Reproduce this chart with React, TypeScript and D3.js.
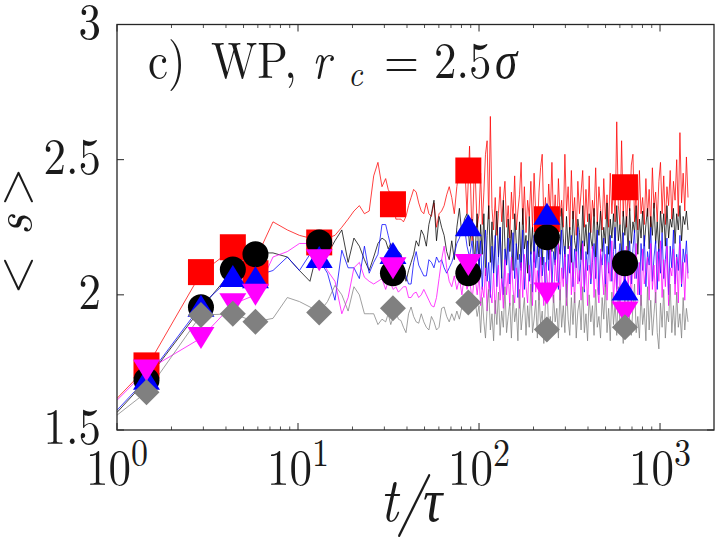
import React from 'react';
import * as d3 from 'd3';

const W = 717, H = 538;
const DT = 1.455;

const xTickExps = [0, 1, 2, 3];
const yTicks = [1.5, 2, 2.5, 3];
const yTickLabels = ['1.5', '2', '2.5', '3'];

// marker sample steps (t = step * DT)
const markerSteps = [1, 2, 3, 4, 9, 23, 60, 163, 440];
const redMarkers = [1.739, 2.084, 2.176, 2.08, 2.194, 2.335, 2.46, 2.28, 2.398];
const blackMarkers = [1.684, 1.954, 2.094, 2.15, 2.194, 2.08, 2.08, 2.213, 2.117];
const blueMarkers = [1.69, 1.96, 2.07, 2.065, 2.14, 2.155, 2.257, 2.30, 2.02];
const magentaMarkers = [1.72, 1.84, 1.965, 2.0, 2.128, 2.098, 2.11, 2.005, 1.935];
const grayMarkers = [1.64, 1.925, 1.93, 1.90, 1.935, 1.95, 1.972, 1.872, 1.88];

// early samples: t = 1, then k*DT for k = 1..20
const redEarly = [1.617, 1.73, 2.08, 2.17, 2.13, 2.27, 2.24, 2.22, 2.21, 2.20, 2.21, 2.22, 2.25, 2.28, 2.31, 2.33, 2.30, 2.31, 2.44, 2.49, 2.40];
const blackEarly = [1.565, 1.684, 1.95, 2.09, 2.155, 2.155, 2.14, 2.09, 2.05, 2.19, 2.15, 2.20, 2.24, 2.12, 2.21, 2.18, 2.13, 2.09, 2.14, 2.19, 2.21];
const blueEarly = [1.573, 1.69, 1.96, 2.07, 2.07, 2.09, 2.14, 2.09, 2.15, 2.13, 2.08, 1.98, 2.165, 2.10, 2.10, 2.06, 2.18, 2.08, 2.12, 2.15, 2.26];
const magentaEarly = [1.61, 1.72, 1.84, 1.965, 2.0, 2.14, 2.16, 2.19, 2.19, 2.14, 2.09, 2.05, 1.93, 1.99, 2.10, 2.12, 2.065, 2.05, 2.04, 2.05, 2.06];
const grayEarly = [1.555, 1.64, 1.925, 1.93, 1.90, 1.913, 1.99, 1.975, 1.955, 1.935, 1.975, 2.035, 2.0, 1.94, 2.03, 2.0, 1.93, 1.93, 1.93, 1.89, 1.91];

// mid samples: log-spaced from t = 30.5 to t = 97.7
const redMid = [2.43, 2.39, 2.37, 2.36, 2.28, 2.28, 2.28, 2.27, 2.29, 2.33, 2.36, 2.39, 2.38, 2.34, 2.31, 2.30, 2.34, 2.30, 2.29, 2.34, 2.25, 2.30, 2.31, 2.33, 2.37, 2.40, 2.36, 2.30, 2.40, 2.47, 2.45, 2.50, 2.30, 2.55, 2.20, 2.50, 2.25];
const blackMid = [2.20, 2.17, 2.19, 2.14, 2.10, 2.16, 2.15, 2.10, 2.05, 2.09, 2.12, 2.15, 2.20, 2.18, 2.24, 2.22, 2.18, 2.26, 2.30, 2.35, 2.20, 2.29, 2.25, 2.22, 2.16, 2.13, 2.20, 2.13, 2.25, 2.32, 2.22, 2.28, 2.30, 2.18, 2.28, 2.12, 2.30];
const blueMid = [2.26, 2.22, 2.18, 2.13, 2.12, 2.12, 2.10, 2.09, 2.07, 2.04, 2.04, 2.12, 2.16, 2.11, 2.09, 2.07, 2.07, 2.13, 2.12, 2.10, 2.14, 2.12, 2.13, 2.10, 2.08, 2.10, 2.12, 2.15, 2.19, 2.21, 2.24, 2.25, 2.18, 2.14, 2.20, 2.07, 2.20];
const magentaMid = [2.02, 2.05, 2.04, 2.02, 2.03, 2.01, 2.02, 2.03, 2.03, 1.99, 1.99, 2.005, 2.01, 1.99, 2.0, 2.02, 2.0, 1.98, 1.96, 1.955, 1.99, 2.06, 2.13, 2.18, 2.10, 2.05, 2.03, 2.07, 2.02, 2.06, 2.00, 2.08, 2.02, 2.06, 1.98, 2.08, 2.00];
const grayMid = [1.90, 1.93, 1.89, 1.92, 1.94, 1.91, 1.905, 1.88, 1.86, 1.93, 1.955, 1.92, 1.90, 1.895, 1.93, 1.90, 1.88, 1.87, 1.92, 1.90, 1.87, 1.88, 1.95, 1.955, 1.92, 1.90, 1.93, 1.905, 1.94, 1.91, 1.955, 1.97, 1.96, 2.0, 1.96, 1.99, 1.92];

// dense samples: log-spaced from t = 100 to t = 1428
const redDense = [
  2.30, 2.45, 2.26, 2.38, 2.52, 2.57, 2.28, 2.66, 2.32, 2.24,
  2.36, 2.22, 2.30, 2.40, 2.27, 2.35, 2.42, 2.25, 2.33, 2.21,
  2.38, 2.28, 2.44, 2.24, 2.31, 2.37, 2.49, 2.26, 2.40, 2.23,
  2.35, 2.29, 2.42, 2.25, 2.45, 2.30, 2.22, 2.38, 2.47, 2.52,
  2.27, 2.36, 2.24, 2.41, 2.30, 2.49, 2.26, 2.37, 2.23, 2.43,
  2.29, 2.35, 2.25, 2.52, 2.31, 2.40, 2.24, 2.46, 2.28, 2.36,
  2.22, 2.42, 2.30, 2.38, 2.46, 2.25, 2.39, 2.27, 2.44, 2.23,
  2.35, 2.29, 2.47, 2.26, 2.40, 2.32, 2.24, 2.43, 2.28, 2.37,
  2.25, 2.45, 2.30, 2.41, 2.27, 2.64, 2.33, 2.26, 2.57, 2.29,
  2.44, 2.25, 2.38, 2.31, 2.48, 2.52, 2.27, 2.40, 2.24, 2.46,
  2.30, 2.36, 2.26, 2.43, 2.29, 2.39, 2.25, 2.47, 2.32, 2.38,
  2.27, 2.42, 2.49, 2.30, 2.44, 2.26, 2.40, 2.33, 2.46, 2.28,
  2.42, 2.35, 2.50, 2.29, 2.60, 2.34, 2.45, 2.31, 2.51, 2.36];
const blackDense = [
  2.10, 2.26, 2.15, 2.30, 2.07, 2.22, 2.33, 2.12, 2.27, 2.08,
  2.20, 2.31, 2.14, 2.25, 2.06, 2.35, 2.18, 2.11, 2.28, 2.16,
  2.24, 2.09, 2.30, 2.19, 2.13, 2.27, 2.10, 2.32, 2.17, 2.22,
  2.08, 2.29, 2.15, 2.25, 2.12, 2.31, 2.20, 2.14, 2.28, 2.11,
  2.26, 2.18, 2.33, 2.13, 2.24, 2.16, 2.30, 2.12, 2.27, 2.19,
  2.15, 2.32, 2.21, 2.14, 2.29, 2.17, 2.25, 2.12, 2.31, 2.20,
  2.16, 2.28, 2.23, 2.13, 2.33, 2.18, 2.26, 2.15, 2.30, 2.21,
  2.17, 2.32, 2.14, 2.27, 2.22, 2.31, 2.16, 2.25, 2.19, 2.34,
  2.15, 2.28, 2.21, 2.30, 2.17, 2.33, 2.20, 2.26, 2.14, 2.31,
  2.22, 2.29, 2.16, 2.32, 2.19, 2.27, 2.23, 2.33, 2.15, 2.28,
  2.21, 2.31, 2.18, 2.26, 2.32, 2.17, 2.29, 2.22, 2.34, 2.19,
  2.27, 2.16, 2.31, 2.23, 2.30, 2.18, 2.33, 2.21, 2.28, 2.25,
  2.32, 2.19, 2.30, 2.24, 2.33, 2.20, 2.29, 2.26, 2.31, 2.24];
const blueDense = [
  2.10, 2.20, 2.02, 2.15, 2.24, 2.05, 2.12, 1.99, 2.18, 2.08,
  2.22, 2.03, 2.14, 2.25, 2.07, 2.00, 2.17, 2.11, 2.21, 2.04,
  2.13, 2.23, 2.06, 2.19, 1.99, 2.15, 2.09, 2.24, 2.02, 2.12,
  2.20, 2.05, 2.16, 2.01, 2.22, 2.10, 2.18, 2.03, 2.25, 2.07,
  2.14, 2.00, 2.19, 2.09, 2.23, 2.04, 2.16, 2.11, 2.21, 2.02,
  2.13, 2.24, 2.06, 2.18, 1.99, 2.15, 2.08, 2.22, 2.03, 2.17,
  2.10, 2.25, 2.05, 2.14, 2.20, 2.01, 2.16, 2.09, 2.23, 2.04,
  2.12, 2.19, 2.06, 2.24, 2.00, 2.15, 2.11, 2.21, 2.03, 2.18,
  2.08, 2.22, 2.05, 2.16, 2.25, 2.02, 2.13, 2.19, 2.07, 2.23,
  2.01, 2.15, 2.10, 2.20, 2.04, 2.17, 2.24, 2.06, 2.12, 2.00,
  2.19, 2.09, 2.22, 2.03, 2.16, 2.11, 2.25, 2.05, 2.14, 2.20,
  2.02, 2.17, 2.08, 2.23, 2.06, 2.13, 2.21, 2.00, 2.18, 2.10,
  2.24, 2.04, 2.15, 2.09, 2.22, 2.03, 2.17, 2.12, 2.20, 2.08];
const magentaDense = [
  2.07, 1.96, 2.03, 1.99, 2.10, 1.94, 2.05, 2.01, 1.97, 2.08,
  1.93, 2.04, 2.11, 1.98, 2.06, 1.95, 2.13, 2.00, 2.08, 1.96,
  2.14, 2.02, 1.97, 2.10, 2.05, 1.95, 2.12, 1.99, 2.15, 2.03,
  1.97, 2.11, 2.06, 1.96, 2.16, 2.01, 2.09, 1.98, 2.14, 2.04,
  1.96, 2.12, 2.07, 1.99, 2.17, 2.02, 1.97, 2.13, 2.05, 2.19,
  1.98, 2.10, 2.03, 2.15, 1.96, 2.08, 2.18, 2.00, 2.12, 1.97,
  2.16, 2.04, 2.09, 1.98, 2.19, 2.02, 2.13, 1.96, 2.11, 2.06,
  2.18, 1.99, 2.14, 2.03, 1.97, 2.17, 2.08, 2.00, 2.15, 1.98,
  2.12, 2.05, 2.20, 1.97, 2.10, 2.01, 2.16, 1.96, 2.13, 2.07,
  1.99, 2.18, 2.03, 2.11, 1.97, 2.15, 2.06, 2.19, 2.00, 2.12,
  1.96, 2.17, 2.04, 2.09, 2.14, 1.98, 2.19, 2.02, 2.11, 1.97,
  2.16, 2.05, 2.20, 1.99, 2.13, 2.03, 2.18, 1.96, 2.10, 2.07,
  2.17, 2.00, 2.14, 1.97, 2.19, 2.04, 2.12, 1.98, 2.15, 2.06];
const grayDense = [
  1.96, 1.86, 1.99, 1.90, 1.84, 1.95, 2.02, 1.87, 1.93, 1.83,
  1.98, 1.89, 2.01, 1.85, 1.94, 1.88, 2.03, 1.86, 1.92, 1.97,
  1.84, 2.00, 1.90, 1.95, 1.83, 2.02, 1.87, 1.93, 1.99, 1.85,
  1.96, 1.88, 2.04, 1.86, 1.91, 1.98, 1.84, 2.01, 1.89, 1.94,
  1.82, 1.97, 2.03, 1.87, 1.92, 1.85, 2.00, 1.90, 1.95, 1.84,
  2.02, 1.88, 1.96, 1.86, 2.04, 1.91, 1.85, 1.99, 1.89, 2.01,
  1.84, 1.94, 1.98, 1.87, 2.03, 1.86, 1.93, 1.83, 2.00, 1.90,
  1.96, 1.85, 2.02, 1.88, 1.92, 1.84, 1.99, 1.91, 2.04, 1.86,
  1.95, 1.83, 2.01, 1.89, 1.97, 1.85, 2.03, 1.88, 1.93, 1.82,
  1.99, 1.87, 2.02, 1.90, 1.85, 1.96, 2.04, 1.86, 1.92, 1.84,
  2.00, 1.89, 1.95, 1.83, 2.03, 1.87, 1.98, 1.85, 1.93, 2.01,
  1.86, 1.80, 1.97, 1.88, 2.02, 1.84, 1.94, 1.90, 2.04, 1.86,
  1.96, 1.85, 2.01, 1.88, 1.93, 1.84, 1.99, 1.87, 1.95, 1.90];

type Series = { color: string; early: number[]; mid: number[]; dense: number[]; markers: number[]; shape: string };
const series: Series[] = [
  { color: '#ff0000', early: redEarly, mid: redMid, dense: redDense, markers: redMarkers, shape: 'square' },
  { color: '#000000', early: blackEarly, mid: blackMid, dense: blackDense, markers: blackMarkers, shape: 'circle' },
  { color: '#0000ff', early: blueEarly, mid: blueMid, dense: blueDense, markers: blueMarkers, shape: 'up' },
  { color: '#ff00ff', early: magentaEarly, mid: magentaMid, dense: magentaDense, markers: magentaMarkers, shape: 'down' },
  { color: '#808080', early: grayEarly, mid: grayMid, dense: grayDense, markers: grayMarkers, shape: 'diamond' },
];

const L = 117, R = 714, T = 24.5, B = 430;
const FONT = "'Latin Modern Roman'";
const SY = 1.15;
const INK = '#1a1a1a';

function markerPath(shape: string, cx: number, cy: number): string {
  const h = 13;
  switch (shape) {
    case 'square':
      return `M${cx - h},${cy - h}H${cx + h}V${cy + h}H${cx - h}Z`;
    case 'up':
      return `M${cx},${cy - 11}L${cx + 13.5},${cy + 11}L${cx - 13.5},${cy + 11}Z`;
    case 'down':
      return `M${cx},${cy + 11}L${cx + 13.5},${cy - 11}L${cx - 13.5},${cy - 11}Z`;
    case 'diamond':
      return `M${cx},${cy - 13}L${cx + 13},${cy}L${cx},${cy + 13}L${cx - 13},${cy}Z`;
    default:
      return '';
  }
}

function logGrid(a: number, b: number, n: number): number[] {
  return d3.range(n).map(i => a * Math.pow(b / a, i / (n - 1)));
}

export default function App() {
  const x = d3.scaleLog().domain([1, 1987]).range([L, R]);
  const y = d3.scaleLinear().domain([1.5, 3]).range([B, T]);

  const line = d3.line<{ t: number; v: number }>().x(d => x(d.t)).y(d => y(d.v));

  const buildPts = (s: Series) => {
    const early = s.early.map((v, k) => ({ t: k === 0 ? 1 : k * DT, v }));
    const mg = logGrid(30.5, 97.7, s.mid.length);
    const dg = logGrid(100, 1428, s.dense.length);
    const mid = s.mid.map((v, i) => ({ t: mg[i], v }));
    const dense = s.dense.map((v, i) => ({ t: dg[i], v }));
    return early.concat(mid, dense);
  };

  const minor: number[] = [];
  for (let e = 0; e <= 3; e++) for (let m = 2; m <= 9; m++) { const v = m * Math.pow(10, e); if (v <= 1987) minor.push(v); }

  const tf = { fontFamily: FONT };

  return (
    <svg width={W} height={H} style={{ position: 'absolute', left: 0, top: 0, background: '#fff' }}>
      <rect x={0} y={0} width={W} height={H} fill="#fff" />
      <defs>
        <clipPath id="plot"><rect x={L} y={T} width={R - L} height={B - T} /></clipPath>
      </defs>
      <g clipPath="url(#plot)">
        {series.map((s, i) => (
          <path key={i} d={line(buildPts(s)) || ''} fill="none" stroke={s.color} strokeWidth={0.75} strokeLinejoin="round" />
        ))}
        {series.map((s, i) => (
          <g key={'m' + i} fill={s.color}>
            {s.markers.map((v, j) => {
              const cx = x(markerSteps[j] * DT), cy = y(v);
              return s.shape === 'circle'
                ? <circle key={j} cx={cx} cy={cy} r={13} />
                : <path key={j} d={markerPath(s.shape, cx, cy)} />;
            })}
          </g>
        ))}
      </g>
      {/* frame */}
      <rect x={L} y={T} width={R - L} height={B - T} fill="none" stroke="#262626" strokeWidth={1.3} />
      {/* x ticks */}
      {xTickExps.map(e => {
        const px = x(Math.pow(10, e));
        return (
          <g key={'xt' + e}>
            <line x1={px} x2={px} y1={B} y2={B - 7} stroke="#262626" strokeWidth={1} />
            <line x1={px} x2={px} y1={T} y2={T + 7} stroke="#262626" strokeWidth={1} />
            <text transform={`translate(${px},485) scale(1,${SY})`} textAnchor="middle" fontSize={45} fill={INK} style={tf}>
              <tspan>10</tspan>
              <tspan dy={-16.5} fontSize={34}>{e}</tspan>
            </text>
          </g>
        );
      })}
      {minor.map((v, i) => (
        <g key={'mn' + i}>
          <line x1={x(v)} x2={x(v)} y1={B} y2={B - 3.5} stroke="#262626" strokeWidth={0.8} />
          <line x1={x(v)} x2={x(v)} y1={T} y2={T + 3.5} stroke="#262626" strokeWidth={0.8} />
        </g>
      ))}
      {/* y ticks */}
      {yTicks.map((v, i) => (
        <g key={'yt' + i}>
          <line x1={L} x2={L + 7} y1={y(v)} y2={y(v)} stroke="#262626" strokeWidth={1} />
          <line x1={R} x2={R - 7} y1={y(v)} y2={y(v)} stroke="#262626" strokeWidth={1} />
          <text transform={`translate(101,${y(v) + 14}) scale(1,${SY})`} textAnchor="end" fontSize={45} fill={INK} style={tf}>{yTickLabels[i]}</text>
        </g>
      ))}
      {/* axis labels */}
      <text transform={`translate(0,521) scale(1,${SY})`} fontSize={54} fontStyle="italic" fill={INK} style={tf}>
        <tspan x={380}>t</tspan>
        <tspan x={397}>/</tspan>
        <tspan x={423}>τ</tspan>
      </text>
      <text transform="translate(31,232) rotate(-90)" textAnchor="middle" fontSize={50} fill={INK} style={tf}>
        <tspan x={-43}>{'<'}</tspan>
        <tspan x={7} fontStyle="italic">s</tspan>
        <tspan x={45}>{'>'}</tspan>
      </text>
      {/* title */}
      <text transform={`translate(0,78) scale(1,${SY})`} fontSize={45} fill={INK} style={tf}>
        <tspan x={148}>c)</tspan>
        <tspan x={211}>WP,</tspan>
        <tspan x={312} fontStyle="italic">r</tspan>
        <tspan x={348} dy={7} fontSize={32} fontStyle="italic">c</tspan>
        <tspan x={384} dy={-7}>=</tspan>
        <tspan x={434}>2.5</tspan>
        <tspan x={495} fontStyle="italic">σ</tspan>
      </text>
    </svg>
  );
}
